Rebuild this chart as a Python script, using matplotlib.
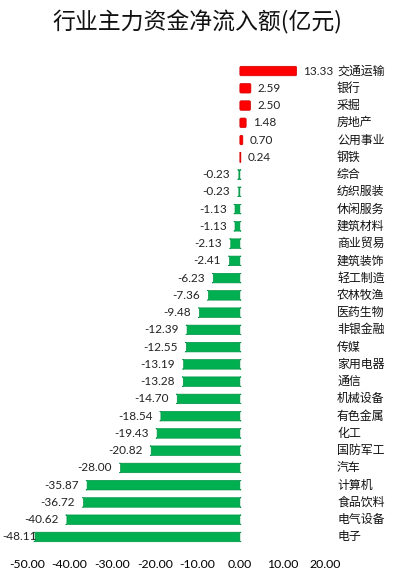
import matplotlib.pyplot as plt
from matplotlib.patches import FancyBboxPatch
import numpy as np

plt.rcParams['font.family'] = ['Noto Sans CJK SC', 'DejaVu Sans']

industries = ['交通运输', '银行', '采掘', '房地产', '公用事业', '钢铁', '综合', '纺织服装',
              '休闲服务', '建筑材料', '商业贸易', '建筑装饰', '轻工制造', '农林牧渔', '医药生物',
              '非银金融', '传媒', '家用电器', '通信', '机械设备', '有色金属', '化工', '国防军工',
              '汽车', '计算机', '食品饮料', '电气设备', '电子']
net_flow = [13.33, 2.59, 2.50, 1.48, 0.70, 0.24, -0.23, -0.23,
            -1.13, -1.13, -2.13, -2.41, -6.23, -7.36, -9.48,
            -12.39, -12.55, -13.19, -13.28, -14.70, -18.54, -19.43, -20.82,
            -28.00, -35.87, -36.72, -40.62, -48.11]
x_ticks = [-50, -40, -30, -20, -10, 0, 10, 20]

W, H = 394, 576
fig = plt.figure(figsize=(W / 100, H / 100), dpi=100, facecolor='white')
ax = fig.add_axes([27 / W, 1 - 545.6 / H, (325 - 27) / W, (545.6 - 62.4) / H])

y = np.arange(len(industries))
colors = ['#ff0000' if v > 0 else '#00b050' for v in net_flow]
edges = ['#d00000' if v > 0 else '#009444' for v in net_flow]
bars = ax.barh(y, net_flow, height=0.55, color=colors)

ax.set_xlim(-50, 20)
ax.set_ylim(len(industries) - 0.5, -0.5)

# 换成圆角柱子
for b, fc, ec in zip(bars, colors, edges):
    b.set_visible(False)
    rp = FancyBboxPatch((b.get_x(), b.get_y()), b.get_width(), b.get_height(),
                        boxstyle='round,pad=0,rounding_size=0.3', mutation_aspect=0.25,
                        facecolor=fc, edgecolor=ec, linewidth=0.5)
    ax.add_patch(rp)

# 数值标签
for yi, v in zip(y, net_flow):
    if v > 0:
        ax.text(v + 1.6, yi, f'{v:.2f}', ha='left', va='center',
                fontsize=8.5, color='#222222', family=['Lato', 'DejaVu Sans'])
    else:
        ax.text(max(v - 2.0, -47.6), yi, f'{v:.2f}', ha='right', va='center',
                fontsize=8.5, color='#222222', family=['Lato', 'DejaVu Sans'],
                clip_on=False)

# 行业名称放在右侧
lab_x = 1 + (337 - 325) / (325 - 27)
for yi, name in zip(y, industries):
    ax.text(lab_x, yi, name, transform=ax.get_yaxis_transform(), ha='left', va='center',
            fontsize=8.6, color='#111111', clip_on=False)

ax.set_xticks(x_ticks)
ax.set_xticklabels([f'{t:.2f}' for t in x_ticks], family=['Lato', 'DejaVu Sans'], fontsize=8.8)
ax.tick_params(axis='x', length=0, pad=10)
ax.set_yticks([])
for s in ax.spines.values():
    s.set_visible(False)

fig.text(197 / W, 1 - 22 / H, '行业主力资金净流入额(亿元)', ha='center', va='center',
         fontsize=16.5, color='#111111')

fig.savefig('out.png', dpi=100)
